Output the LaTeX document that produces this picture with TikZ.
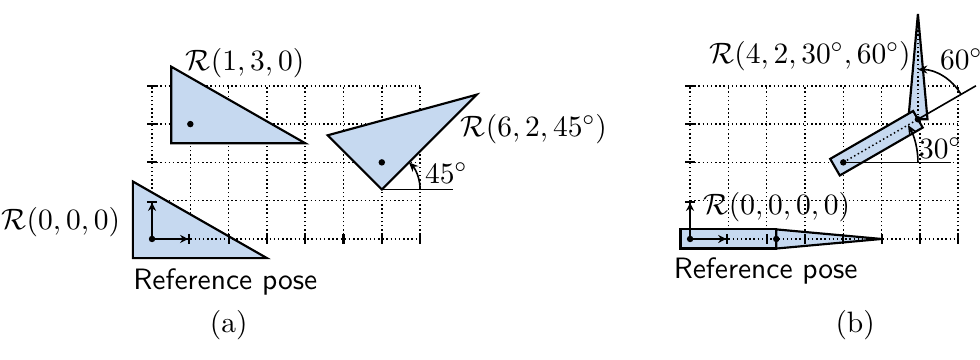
\documentclass[tikz,border=0pt]{standalone}
\usepackage{amsmath,amssymb}
\usepackage{tikz}
\usetikzlibrary{arrows.meta,calc}
\usepackage{xcolor}
\definecolor{bodyfill}{RGB}{198,217,240}
\tikzset{
  >=Stealth,
}

\begin{document}
\begin{tikzpicture}[
  x=0.5cm, y=0.5cm,
  gridline/.style={densely dotted, line width=0.55pt},
  tick/.style={line width=0.8pt},
  body/.style={draw=black, line width=0.8pt, fill=bodyfill},
  axisline/.style={densely dotted, line width=0.55pt},
  frame/.style={line width=0.8pt, -{Stealth[length=3pt,width=3pt]Bar[width=3.8pt]}},
  angarc/.style={semithick, -{Stealth[length=3.5pt,width=3pt]}},
  ref/.style={semithick},
  label/.style={font=\fontsize{10.95}{13.6}\selectfont},
  caption/.style={font=\fontsize{10.95}{13.6}\selectfont\sffamily, anchor=north west, inner sep=0pt}
]
\useasboundingbox (-3.97,-3.16) rectangle (21.62,6.24);

% (a) planar triangle
\foreach \x in {1,...,7}
  \draw[gridline] (\x,0) -- (\x,4);
\foreach \y in {1,...,4}
  \draw[gridline] (0,\y) -- (7,\y);
\draw[gridline] (0,0) -- (0,4);

\draw[body] (0.5,2.5) -- (4,2.5) -- (0.5,4.5) -- cycle;
\fill (1,3) circle (1.2pt);

\begin{scope}[shift={(6,2)}, rotate=45]
  \draw[body] (-0.5,-0.5) -- (3,-0.5) -- (-0.5,1.5) -- cycle;
  \coordinate (apexA) at (-0.5,-0.5);
  \fill (0,0) circle (1.2pt);
\end{scope}
\coordinate (horA) at ($(apexA)+(1.85,0)$);
\draw[ref] (apexA) -- (horA);
\draw[angarc] ($(apexA)+(1,0)$) arc[start angle=0, end angle=45, radius=1];

\draw[body] (-0.5,-0.5) -- (3,-0.5) -- (-0.5,1.5) -- cycle;
\draw[axisline] (1,0) -- (7,0);
\foreach \x in {2,...,7}
  \draw[tick] (\x,-0.13) -- (\x,0.13);
\foreach \y in {2,...,4}
  \draw[tick] (-0.13,\y) -- (0.13,\y);
\coordinate (oA) at (0,0);
\coordinate (exA) at (1,0);
\coordinate (eyA) at (0,1);
\draw[frame] (oA) -- (exA);
\draw[frame] (oA) -- (eyA);
\fill (oA) circle (1.2pt);

\node[label] (poseA1) at (2.43,4.6) {\(\mathcal{R}(1,3,0)\)};
\node[label] (poseA2) at (9.97,2.87) {\(\mathcal{R}(6,2,45^\circ)\)};
\node[label] (angA) at (7.68,1.72) {\(45^\circ\)};
\node[label] (poseA0) at (-2.38,0.45) {\(\mathcal{R}(0,0,0)\)};
\node[caption] (refA) at (-0.5,-0.76) {Reference pose};
\node[label] (capA) at (2.0,-2.25) {(a)};

% (b) two-link arm
\begin{scope}[shift={(14.05,0)}]
  \foreach \x in {1,...,7}
    \draw[gridline] (\x,0) -- (\x,4);
  \foreach \y in {1,...,4}
    \draw[gridline] (0,\y) -- (7,\y);
  \draw[gridline] (0,0) -- (0,4);

  \begin{scope}[shift={(4,2)}, rotate=30]
    \coordinate (baseB) at (0,0);
    \coordinate (jointB) at (2.25,0);
    \coordinate (farB) at (4,0);
    \begin{scope}[shift={(2.25,0)}, rotate=60]
      \draw[body] (0,0.25) -- (2.75,0) -- (0,-0.25) -- cycle;
      \draw[axisline] (0,0) -- (2.75,0);
    \end{scope}
    \draw[body] (-0.25,-0.25) rectangle (2.25,0.25);
    \draw[axisline] (0,0) -- (2.25,0);
  \end{scope}
  \draw[ref] (jointB) -- (farB);
  \coordinate (horB) at ($(baseB)+(2.8,0)$);
  \draw[ref] (baseB) -- (horB);
  \draw[angarc] ($(baseB)+(1.95,0)$) arc[start angle=0, end angle=30, radius=1.95];
  \draw[angarc] ($(jointB)+(30:1.3)$) arc[start angle=30, end angle=90, radius=1.3];
  \fill (baseB) circle (1.2pt);
  \fill (jointB) circle (1.2pt);

  \draw[body] (2.25,0.25) -- (5,0) -- (2.25,-0.25) -- cycle;
  \draw[body] (-0.25,-0.25) rectangle (2.25,0.25);
  \draw[axisline] (1,0) -- (7,0);
  \foreach \x in {2,...,7}
    \draw[tick] (\x,-0.13) -- (\x,0.13);
  \foreach \y in {2,...,4}
    \draw[tick] (-0.13,\y) -- (0.13,\y);
  \coordinate (oB) at (0,0);
  \coordinate (exB) at (1,0);
  \coordinate (eyB) at (0,1);
  \draw[frame] (oB) -- (exB);
  \draw[frame] (oB) -- (eyB);
  \fill (oB) circle (1.2pt);
  \fill (2.25,0) circle (1.2pt);

  \node[label] (poseB1) at (3.13,4.78) {\(\mathcal{R}(4,2,30^\circ,60^\circ)\)};
  \node[label] (angB2) at (7.08,4.70) {\(60^\circ\)};
  \node[label] (angB1) at (6.53,2.38) {\(30^\circ\)};
  \node[label] (poseB0) at (2.27,0.84) {\(\mathcal{R}(0,0,0,0)\)};
  \node[caption] (refB) at (-0.44,-0.48) {Reference pose};
  \node[label] (capB) at (4.31,-2.25) {(b)};
\end{scope}
\end{tikzpicture}
\end{document}
